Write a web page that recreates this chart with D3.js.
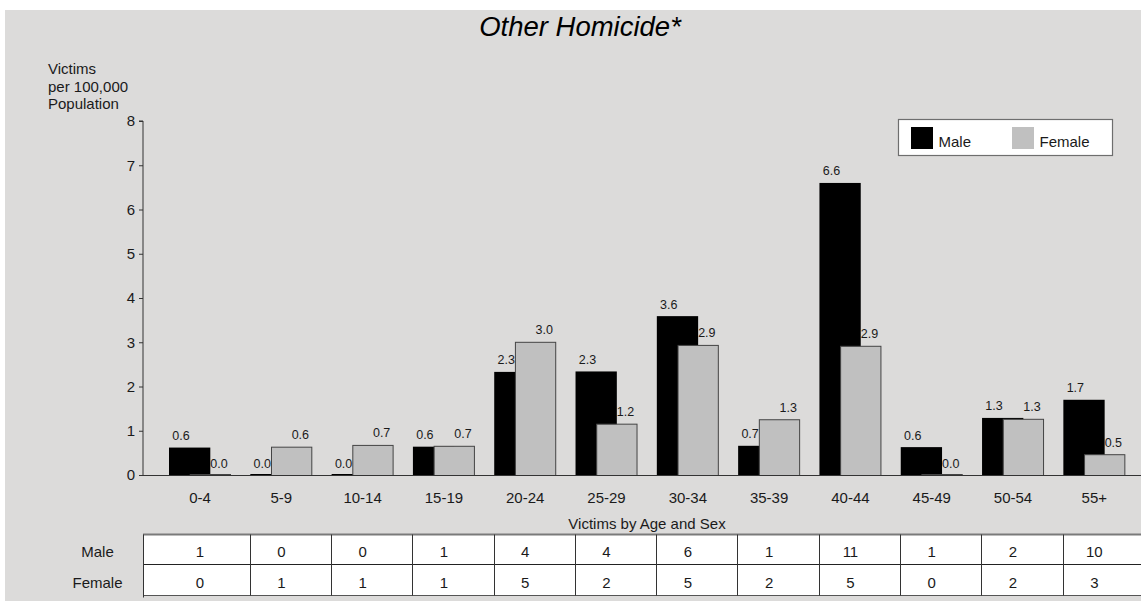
<!DOCTYPE html>
<html>
<head>
<meta charset="utf-8">
<script src="https://cdn.jsdelivr.net/npm/d3@7"></script>
<style>
  html, body { margin: 0; padding: 0; background: #ffffff; }
  svg { display: block; }
  text { font-family: "Liberation Sans", Arial, sans-serif; fill: #1a1a1a; }
</style>
</head>
<body>
<svg id="chart" width="1141" height="601"></svg>
<script>
// ---- data ----
const categories = ["0-4","5-9","10-14","15-19","20-24","25-29","30-34","35-39","40-44","45-49","50-54","55+"];
const maleRates   = [0.62, 0.0, 0.0, 0.64, 2.33, 2.34, 3.59, 0.66, 6.6, 0.63, 1.29, 1.70];
const femaleRates = [0.0, 0.64, 0.68, 0.66, 3.01, 1.16, 2.94, 1.26, 2.92, 0.0, 1.27, 0.47];
const maleCounts   = [1, 0, 0, 1, 4, 4, 6, 1, 11, 1, 2, 10];
const femaleCounts = [0, 1, 1, 1, 5, 2, 5, 2, 5, 0, 2, 3];
const yTicks = [0, 1, 2, 3, 4, 5, 6, 7, 8];
const seriesNames = ["Male", "Female"];
const title = "Other Homicide*";
const yLabelLines = ["Victims", "per 100,000", "Population"];
const tableCaption = "Victims by Age and Sex";

// ---- layout ----
const W = 1141, H = 601;
const svg = d3.select("#chart");

svg.append("rect").attr("x", 5).attr("y", 10).attr("width", W - 5).attr("height", H - 10)
  .attr("fill", "#dcdbda");

const x = d3.scaleBand().domain(categories).range([159.35, 1135]).padding(0);
const y = d3.scaleLinear().domain([0, 8]).range([475, 121]);
const bw = x.bandwidth();
const barW = bw * 0.508;
const shift = bw * 0.2545;
const axisX = 143;

// title
svg.append("text").attr("x", 580).attr("y", 36).attr("text-anchor", "middle")
  .style("font-size", "27.5px").style("font-style", "italic").style("fill", "#000")
  .text(title);

// y label
svg.append("g").selectAll("text").data(yLabelLines).join("text")
  .attr("x", 48).attr("y", (d, i) => 74 + i * 17.5)
  .style("font-size", "15px").text(d => d);

// y axis
const yAxis = d3.axisLeft(y).tickValues(yTicks).tickSize(4).tickPadding(4).tickFormat(d3.format("d"));
const gy = svg.append("g").attr("transform", `translate(${axisX},0)`).call(yAxis);
gy.select(".domain").attr("stroke", "#333").attr("d", `M-4,${y(8)}H0V${y(0)}`);
gy.selectAll(".tick line").attr("stroke", "#333");
gy.selectAll(".tick text").style("font-size", "15px").style("font-family", "'Liberation Sans', Arial, sans-serif").attr("fill", "#1a1a1a");

// bars
const rows = categories.map((c, i) => ({ c, m: maleRates[i], f: femaleRates[i] }));
const cx = c => x(c) + bw / 2;

svg.append("g").selectAll("rect").data(rows).join("rect")
  .attr("x", d => cx(d.c) - shift / 2 - barW / 2)
  .attr("width", barW)
  .attr("y", d => Math.min(y(d.m), y(0) - 1))
  .attr("height", d => Math.max(y(0) - y(d.m), 1))
  .attr("fill", "#000");

svg.append("g").selectAll("rect").data(rows).join("rect")
  .attr("x", d => cx(d.c) + shift / 2 - barW / 2 + 0.5)
  .attr("width", barW - 1)
  .attr("y", d => Math.min(y(d.f), y(0) - 1) + 0.5)
  .attr("height", d => Math.max(y(0) - y(d.f), 1))
  .attr("fill", "#c0c0c0").attr("stroke", "#444").attr("stroke-width", 1);

// x baseline
svg.append("line").attr("x1", axisX).attr("x2", W).attr("y1", y(0) + 0.5).attr("y2", y(0) + 0.5)
  .attr("stroke", "#333");

// value labels
const fmt = d3.format(".1f");
svg.append("g").selectAll("text").data(rows).join("text")
  .attr("x", d => cx(d.c) - bw * 0.234).attr("y", d => y(d.m) - 7.5)
  .attr("text-anchor", "middle").style("font-size", "12.5px").text(d => fmt(d.m));
svg.append("g").selectAll("text").data(rows).join("text")
  .attr("x", d => cx(d.c) + bw * 0.234).attr("y", d => y(d.f) - 7.5)
  .attr("text-anchor", "middle").style("font-size", "12.5px").text(d => fmt(d.f));

// x labels
svg.append("g").selectAll("text").data(categories).join("text")
  .attr("x", d => cx(d)).attr("y", 503).attr("text-anchor", "middle")
  .style("font-size", "15px").text(d => d);

// legend
const lg = svg.append("g");
lg.append("rect").attr("x", 898.5).attr("y", 119.5).attr("width", 214).attr("height", 36)
  .attr("fill", "#fff").attr("stroke", "#6e6e6e").attr("stroke-width", 1.2);
const legendColors = ["#000", "#c0c0c0"];
const legendX = [911, 1012];
seriesNames.forEach((s, i) => {
  lg.append("rect").attr("x", legendX[i]).attr("y", 127).attr("width", 22).attr("height", 22)
    .attr("fill", legendColors[i]);
  lg.append("text").attr("x", legendX[i] + 27.5).attr("y", 147).style("font-size", "15px").text(s);
});

// table caption
svg.append("text").attr("x", 647).attr("y", 529).attr("text-anchor", "middle")
  .style("font-size", "15px").text(tableCaption);

// table
const tTop = 534.5, tMid = 564.5, tBot = 595.5;
const tg = svg.append("g");
tg.append("rect").attr("x", axisX).attr("y", tTop).attr("width", W - axisX + 5).attr("height", tBot - tTop)
  .attr("fill", "#fff");
tg.append("line").attr("x1", axisX).attr("x2", W).attr("y1", tTop).attr("y2", tTop).attr("stroke", "#7a7a7a").attr("stroke-width", 2);
tg.append("line").attr("x1", axisX).attr("x2", W).attr("y1", tMid).attr("y2", tMid).attr("stroke", "#222");
tg.append("line").attr("x1", axisX).attr("x2", W).attr("y1", tBot).attr("y2", tBot).attr("stroke", "#555");
tg.append("line").attr("x1", axisX + 0.5).attr("x2", axisX + 0.5).attr("y1", tTop).attr("y2", tBot + 2).attr("stroke", "#333");
tg.selectAll("line.col").data(categories.slice(1)).join("line").attr("class", "col")
  .attr("x1", d => Math.round(x(d) + 9) + 0.5).attr("x2", d => Math.round(x(d) + 9) + 0.5)
  .attr("y1", tTop).attr("y2", tBot).attr("stroke", "#333");

const tableRows = [{ name: "Male", vals: maleCounts, yb: 557 }, { name: "Female", vals: femaleCounts, yb: 588 }];
tableRows.forEach(r => {
  tg.append("text").attr("x", 97.5).attr("y", r.yb).attr("text-anchor", "middle")
    .style("font-size", "15px").text(r.name);
  tg.append("g").selectAll("text").data(r.vals).join("text")
    .attr("x", (d, i) => cx(categories[i])).attr("y", r.yb).attr("text-anchor", "middle")
    .style("font-size", "15px").text(d => d);
});
</script>
</body>
</html>
